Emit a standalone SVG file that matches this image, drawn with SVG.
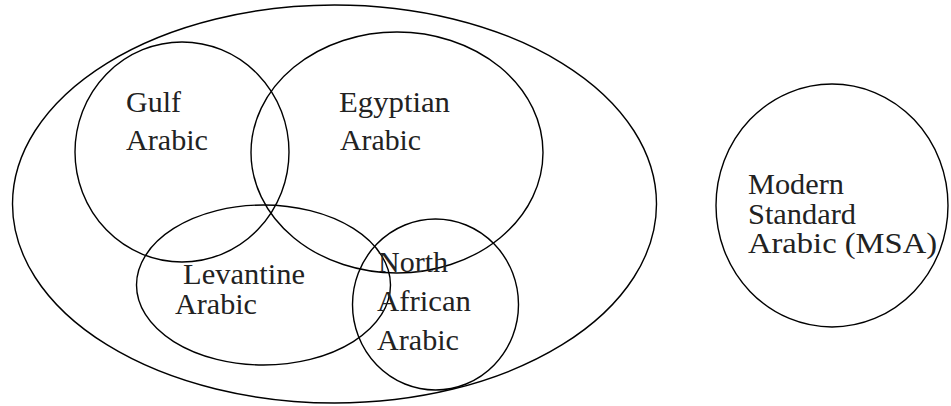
<svg xmlns="http://www.w3.org/2000/svg" width="951" height="406" viewBox="0 0 951 406">
<style>
.set{fill:none;stroke:#000;stroke-width:1.4}
.lbl{font-family:"Liberation Serif","Times New Roman",serif;font-size:29px;fill:#222}
</style>
<rect width="951" height="406" fill="#fff"/>
<g id="arabic-dialects"><ellipse class="set" cx="334.5" cy="204" rx="322" ry="199"/></g>
<g id="gulf"><ellipse class="set" cx="182" cy="152" rx="107" ry="110"/>
<text class="lbl" x="126" y="112" textLength="55" lengthAdjust="spacingAndGlyphs">Gulf</text><text class="lbl" x="126" y="149.5" textLength="82" lengthAdjust="spacingAndGlyphs">Arabic</text></g>
<g id="egyptian"><ellipse class="set" cx="397" cy="152.5" rx="146" ry="120.5"/>
<text class="lbl" x="339" y="112" textLength="111" lengthAdjust="spacingAndGlyphs">Egyptian</text><text class="lbl" x="340" y="149.5" textLength="81" lengthAdjust="spacingAndGlyphs">Arabic</text></g>
<g id="levantine"><ellipse class="set" cx="263.5" cy="285" rx="127" ry="80"/>
<text class="lbl" x="183" y="283.5" textLength="122" lengthAdjust="spacingAndGlyphs">Levantine</text><text class="lbl" x="175" y="313.5" textLength="82" lengthAdjust="spacingAndGlyphs">Arabic</text></g>
<g id="north-african"><ellipse class="set" cx="435.5" cy="304.5" rx="83" ry="85.5"/>
<text class="lbl" x="378" y="272" textLength="70" lengthAdjust="spacingAndGlyphs">North</text><text class="lbl" x="377" y="311" textLength="94" lengthAdjust="spacingAndGlyphs">African</text><text class="lbl" x="377" y="349.5" textLength="82" lengthAdjust="spacingAndGlyphs">Arabic</text></g>
<g id="msa"><ellipse class="set" cx="832" cy="205.5" rx="116" ry="121.5"/>
<text class="lbl" x="748" y="193.5" textLength="96" lengthAdjust="spacingAndGlyphs">Modern</text><text class="lbl" x="748" y="223.5" textLength="108" lengthAdjust="spacingAndGlyphs">Standard</text><text class="lbl" x="748" y="253" textLength="189" lengthAdjust="spacingAndGlyphs">Arabic (MSA)</text></g>
<g id="connectors"/>
</svg>
